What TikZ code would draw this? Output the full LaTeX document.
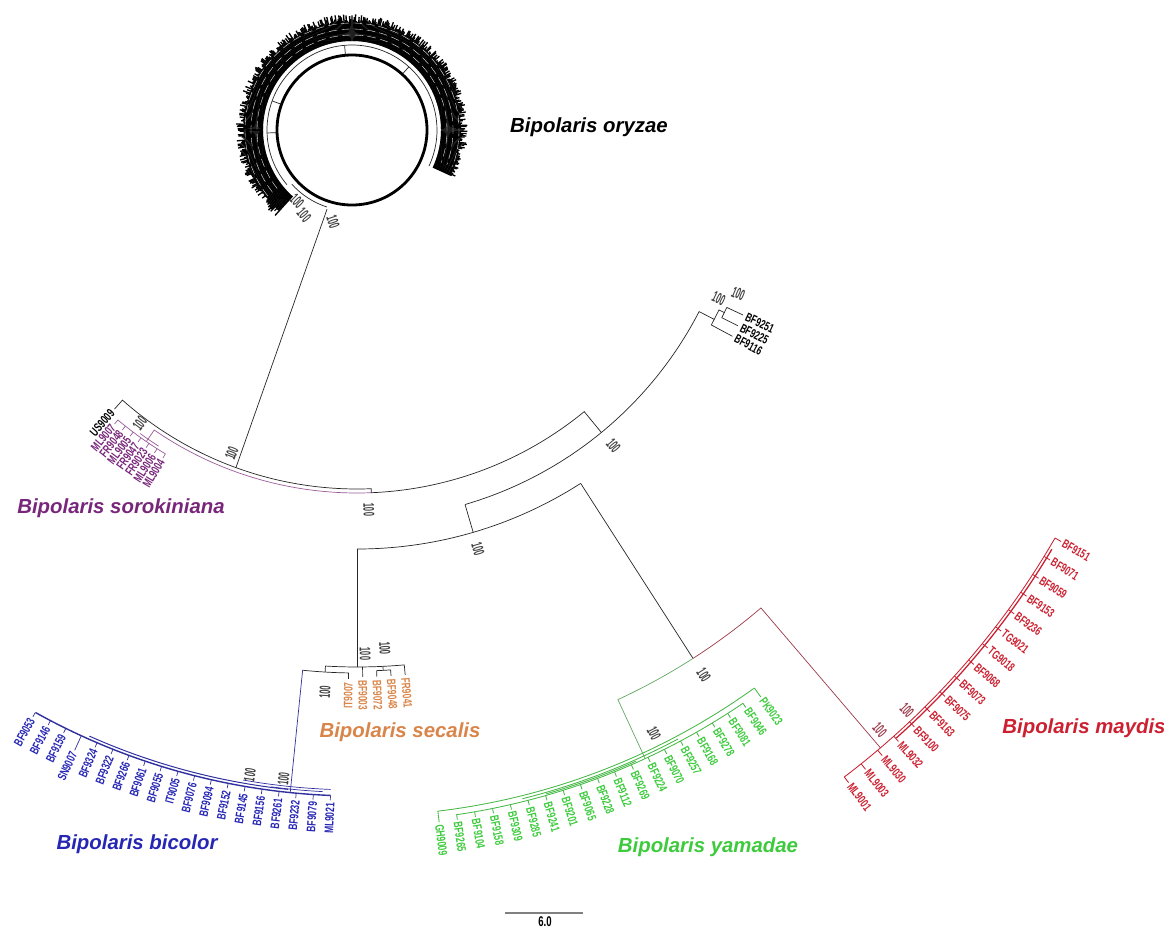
\documentclass[tikz,border=0pt]{standalone}
\usepackage{fontspec}
\setmainfont{Liberation Sans}
\newfontfamily\strainfont[FakeStretch=0.68]{Liberation Sans}
\newfontfamily\bootfont[FakeStretch=0.48]{Liberation Sans}
\definecolor{soro}{HTML}{78267A}
\definecolor{sorol}{HTML}{9A5A9A}
\definecolor{seca}{HTML}{D9854A}
\definecolor{bico}{HTML}{2626B4}
\definecolor{bicol}{HTML}{30309E}
\definecolor{yama}{HTML}{3DCB3D}
\definecolor{yamal}{HTML}{62A862}
\definecolor{yamab}{HTML}{45B845}
\definecolor{mayd}{HTML}{CC2030}
\definecolor{maydl}{HTML}{9C3A4A}

\begin{document}
\begin{tikzpicture}[x=0.025cm,y=-0.025cm,
  ast/.style={line width=0.5pt,draw=black!85},
  soroast/.style={line width=0.5pt,draw=sorol},
  bicoast/.style={line width=0.5pt,draw=bicol},
  yamaast/.style={line width=0.5pt,draw=yamal},
  yamatip/.style={line width=0.6pt,draw=yamab},
  maydast/.style={line width=0.5pt,draw=maydl},
  maydtip/.style={line width=0.6pt,draw=mayd},
  orytip/.style={line width=0.95pt,draw=black},
  art/.style={font=\bfseries\itshape\fontsize{14.5}{16}\selectfont,inner sep=0pt},
  strain/.style={font=\strainfont\bfseries\fontsize{8.8}{9}\selectfont,inner sep=1.5pt},
  tipR/.style={strain,anchor=west,rotate=#1},
  tipL/.style={strain,anchor=east,rotate=#1},
  boot/.style={font=\bootfont\bfseries\fontsize{11}{11}\selectfont,inner sep=0pt,text=black!75}]
	\useasboundingbox (0,0) rectangle (1164,928);
	\coordinate (C) at (357,135);
	\coordinate (O) at (352,130);

	% oryzae Ring
	\begin{scope}[shift={(O)}]
	\draw[line width=2pt] (0,0) circle[radius=75];
	\draw[ast] (140:85) arc[start angle=140, end angle=385, radius=85];
	\draw[ast] (108:81) arc[start angle=108, end angle=138, radius=81];
	\foreach \a in {178,200,265,312}
		\draw[ast] (\a:76) -- (\a:85);
	\pgfmathsetseed{7}
	\foreach \a in {132,132.6,...,385}{
		\pgfmathsetmacro\rr{108+8*rnd}
		\draw[orytip] (\a:89) -- (\a:\rr);
	}
	\foreach \rr in {95,101,107}
		\draw[white,line width=0.25pt,dash pattern=on 6pt off 3pt] (142:\rr) arc[start angle=142, end angle=380, radius=\rr];
	\end{scope}
	\node[boot,rotate=-45] (b16) at (297,201) {100};
	\node[boot,rotate=-50] (b17) at (304,215) {100};
	\node[boot,rotate=-72] (b18) at (333,222) {100};

	\begin{scope}[shift={(C)}]
	% Hauptaeste
	\draw[ast] (110:354) -- (112:80);
	\draw[ast] (131.5:366) -- (131.5:354) arc[start angle=131.5, end angle=87.7, radius=354] -- (87.7:358)
		arc[start angle=87.7, end angle=50.6, radius=358] -- (50.6:385);
	\draw[ast] (73.7:385) arc[start angle=73.7, end angle=27.3, radius=385] -- (27.3:402);
	\draw[ast] (73.7:385) -- (73.7:414);
	\draw[ast] (90:414) arc[start angle=90, end angle=57.3, radius=414];
	\draw[ast] (90:414) -- (90:532);
	\draw[ast] (57.3:414) -- (57.3:622);
	% BF9251 Gruppe
	\draw[ast] (25.8:408) -- (25.8:402) arc[start angle=25.8, end angle=28.2, radius=402] -- (28.2:426);
	\draw[ast] (25:408) arc[start angle=25, end angle=26.6, radius=408];
	\draw[ast] (25:408) -- (25:426);
	\draw[ast] (26.6:408) -- (26.6:426);
	\foreach \nm [count=\i from 0] in {BF9251,BF9225,BF9116}{
		\pgfmathsetmacro\ang{25+1.6*\i}
		\pgfmathsetmacro\rot{-\ang}
		\node[tipR=\rot] (blk\i) at (\ang:427) {\nm};
	}
	% sorokiniana
	\draw[soroast] (87.7:358) arc[start angle=87.7, end angle=124.5, radius=358] -- (124.5:372);
	\draw[soroast] (121:372) arc[start angle=121, end angle=130, radius=372];
	\draw[soroast] (122.5:369) arc[start angle=122.5, end angle=126, radius=369];
	\node[tipL=48.5] (us9009) at (131.5:367) {US9009};
	\foreach \nm [count=\i from 0] in {ML9004,ML9006,FR9023,FR9047,ML9005,FR9048,ML9007}{
		\pgfmathsetmacro\ang{121+1.5*\i}
		\pgfmathsetmacro\rot{180-\ang}
		\draw[soroast] (\ang:372) -- (\ang:377) node[tipL=\rot,text=soro] (sor\i) {\nm};
	}
	% secalis
	\draw[ast] (93.4:532) arc[start angle=93.4, end angle=84.9, radius=532] -- (84.9:542);
	\draw[ast] (93.4:532) -- (93.4:538);
	\draw[ast] (95.8:538) arc[start angle=95.8, end angle=90.9, radius=538] -- (90.9:544);
	\draw[ast] (89.4:532) -- (89.4:542);
	\draw[ast] (87.2:532) -- (87.2:536);
	\draw[ast] (87.9:542) -- (87.9:536) arc[start angle=87.9, end angle=86.4, radius=536] -- (86.4:542);
	\foreach \nm [count=\i from 0] in {FR9041,BF9048,BF9072,BF9003}{
		\pgfmathsetmacro\ang{84.9+1.5*\i}
		\pgfmathsetmacro\rot{-\ang}
		\node[tipR=\rot,text=seca] (sec\i) at (\ang:543) {\nm};
	}
	\node[tipL=89.1,text=seca] (sec4) at (90.9:545) {IT9007};
	% bicolor
	\draw[bicoast] (95.8:538) -- (95.8:661);
	\draw[bicoast,line width=1pt] (119.1:661) arc[start angle=119.1, end angle=92.3, radius=661];
	\draw[bicoast,line width=0.7pt] (114:658) arc[start angle=114, end angle=96, radius=658];
	\draw[bicoast] (100:655) arc[start angle=100, end angle=92.3, radius=655];
	\draw[bicoast] (97.5:657.5) arc[start angle=97.5, end angle=93, radius=657.5];
	\foreach \nm [count=\i from 0] in {ML9021,BF9079,BF9232,BF9261,BF9156,BF9145,BF9152,BF9094,BF9076,IT9005,BF9055,BF9061,BF9266,BF9322,BF9324,SN9007,BF9159,BF9146,BF9053}{
		\pgfmathsetmacro\ang{92.3+1.49*\i}
		\pgfmathsetmacro\rot{180-\ang}
		\pgfmathsetmacro\rt{\i==15 ? 677 : 666}
		\draw[bicoast] (\ang:661) -- (\ang:\rt) node[tipL=\rot,text=bico] (bic\i) {\nm};
	}
	% yamadae
	\draw[yamaast] (57.3:622) arc[start angle=57.3, end angle=65.2, radius=622] -- (65.2:687);
	\draw[yamatip] (54.3:681) arc[start angle=54.3, end angle=83.2, radius=681];
	\draw[yamatip] (55.8:687) arc[start angle=55.8, end angle=81.7, radius=687];
	\draw[yamatip] (62:684) arc[start angle=62, end angle=76, radius=684];
	\draw[yamatip] (66:685.5) arc[start angle=66, end angle=74, radius=685.5];
	\foreach \nm [count=\i from 0] in {PK9023,BF9046,BF9081,BF9278,BF9168,BF9257,BF9070,BF9224,BF9269,BF9112,BF9228,BF9065,BF9201,BF9241,BF9285,BF9309,BF9158,BF9104,BF9265,GH9009}{
		\pgfmathsetmacro\ang{54.3+1.52*\i}
		\pgfmathsetmacro\rot{-\ang}
		\pgfmathsetmacro\rs{(\i==0 || \i==19) ? 681 : 687}
		\draw[yamatip] (\ang:\rs) -- (\ang:692) node[tipR=\rot,text=yama] (yam\i) {\nm};
	}
	% maydis
	\draw[maydast] (57.3:622) arc[start angle=57.3, end angle=49.5, radius=622] -- (49.5:806);
	\draw[maydtip] (52.8:806) arc[start angle=52.8, end angle=30, radius=806];
	\draw[maydtip,line width=0.9pt] (48.2:809) arc[start angle=48.2, end angle=30.8, radius=809];
	\foreach \nm [count=\i from 0] in {BF9151,BF9071,BF9059,BF9153,BF9236,TG9021,TG9018,BF9068,BF9073,BF9075,BF9163,BF9100,ML9032,ML9030,ML9003,ML9001}{
		\pgfmathsetmacro\ang{30+1.52*\i}
		\pgfmathsetmacro\rot{-\ang}
		\draw[maydtip] (\ang:806) -- (\ang:813) node[tipR=\rot,text=mayd] (may\i) {\nm};
	}
	% Bootstrap
	\node[boot,rotate=68.5] (b1) at (111.5:342) {100};
	\node[boot,rotate=-88.2] (b2) at (88.2:375) {100};
	\node[boot,rotate=-50.5] (b3) at (50.5:403) {100};
	\node[boot,rotate=-73.7] (b4) at (73.7:431) {100};
	\node[boot,rotate=-57.3] (b5) at (57.3:642) {100};
	\node[boot,rotate=-63.6] (b6) at (63.6:668) {100};
	\node[boot,rotate=-48.7,text=maydl] (b7) at (48.7:792) {100};
	\node[boot,rotate=-46.3,text=maydl] (b8) at (46.3:796) {100};
	\node[boot,rotate=-89.1] (b9) at (89.1:519) {100};
	\node[boot,rotate=-86.9] (b10) at (86.9:514) {100};
	\node[boot,rotate=86.7] (b11) at (93.3:558) {100};
	\node[boot,rotate=80.5] (b12) at (99.5:649) {100};
	\node[boot,rotate=83.5] (b13) at (96.5:648) {100};
	\node[boot,rotate=-25] (b14) at (24.3:397) {100};
	\node[boot,rotate=-23] (b15) at (22.6:413) {100};
	\node[boot,rotate=53.5] (b19) at (127:361) {100};
	\end{scope}

	% Artnamen
	\node[art] (oryT) at (589,127) {Bipolaris oryzae};
	\node[art,text=soro] (soroT) at (121,508) {Bipolaris sorokiniana};
	\node[art,text=seca] (secaT) at (400,732) {Bipolaris secalis};
	\node[art,text=bico] (bicoT) at (137,844) {Bipolaris bicolor};
	\node[art,text=yama] (yamaT) at (708,847) {Bipolaris yamadae};
	\node[art,text=mayd] (maydT) at (1084,728) {Bipolaris maydis};
	% Massstab
	\draw[gray,line width=1pt] (505,913) -- (583,913);
	\node[strain,font=\strainfont\bfseries\fontsize{10}{10}\selectfont] (skala) at (545,922) {6.0};
\end{tikzpicture}
\end{document}
